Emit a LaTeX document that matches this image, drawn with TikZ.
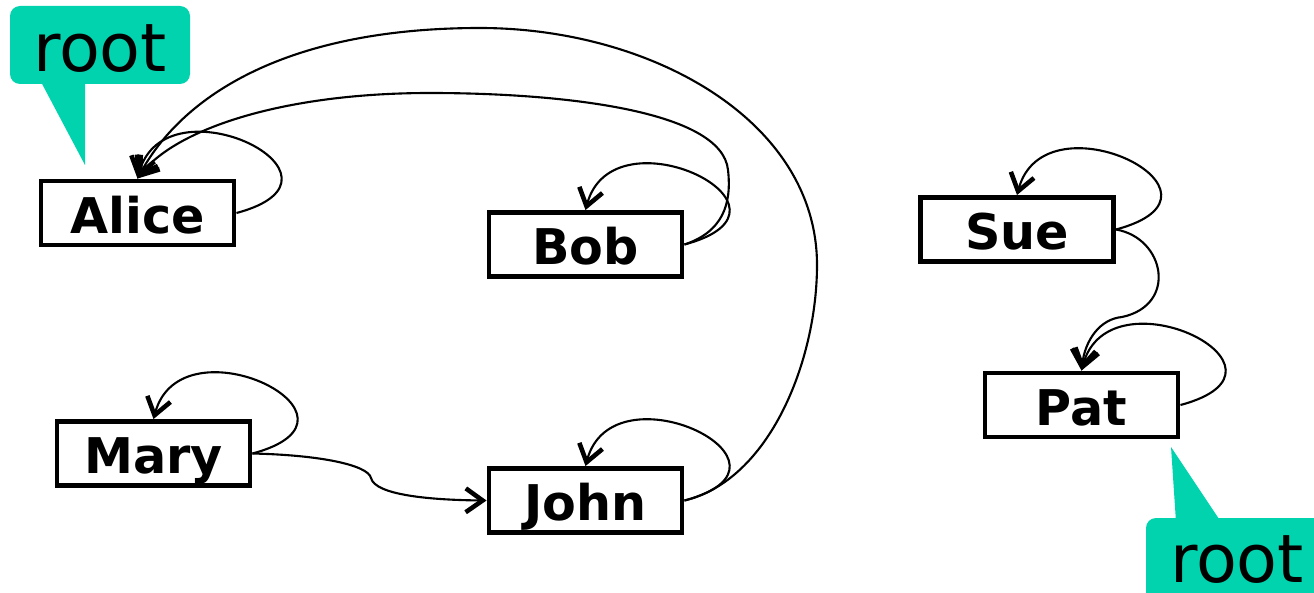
\documentclass[tikz,border=0pt]{standalone}
\usepackage{fontspec}
\setmainfont{DejaVu Sans}
\usetikzlibrary{arrows.meta}
\definecolor{rootteal}{RGB}{0,211,173}

\begin{document}
\begin{tikzpicture}[
		person/.style={draw,line width=1.4pt,minimum width=1.93cm,minimum height=0.64cm,inner sep=0pt,text height=0.40cm,text depth=0pt,font=\bfseries\fontsize{14}{14}\selectfont},
		roottext/.style={inner sep=0pt,text height=0.53cm,text depth=0pt,font=\fontsize{19}{19}\selectfont},
		link/.style={line width=0.6pt,-{Straight Barb[length=4.8pt,width=6.8pt,line width=1.3pt]}},
		selfloop/.style={out=15,in=75,out looseness=3.4,in looseness=2.6}
		]
			\useasboundingbox (0,0) rectangle (13.14,-5.92);
			% callouts
			\fill[rootteal,rounded corners=0.1cm] (0.10,-0.06) rectangle (1.90,-0.84);
			\fill[rootteal] (0.40,-0.80) -- (0.85,-0.80) -- (0.85,-1.65) -- cycle;
			\node[roottext,anchor=base] (rootA) at (1.00,-0.72) {root};
			\fill[rootteal,rounded corners=0.1cm] (11.46,-5.18) rectangle (13.40,-6.10);
			\fill[rootteal] (11.76,-5.22) -- (12.21,-5.22) -- (11.71,-4.47) -- cycle;
			\node[roottext,anchor=base] (rootB) at (12.37,-5.82) {root};
			% people
			\node[person] (Alice) at (1.375,-2.13) {Alice};
			\node[person] (Bob) at (5.855,-2.445) {Bob};
			\node[person] (Sue) at (10.17,-2.295) {Sue};
			\node[person] (Pat) at (10.815,-4.05) {Pat};
			\node[person] (Mary) at (1.535,-4.535) {Mary};
			\node[person] (John) at (5.855,-5.005) {John};
			\foreach \n in {Alice,Bob,Sue,Pat,Mary,John} \draw[link] (\n.east) to[selfloop] (\n.north);
			% parent links
			\draw[link] (Bob.east) .. controls (7.22,-2.32) and (7.32,-2.05) .. (7.28,-1.70)
				.. controls (7.22,-1.10) and (5.60,-0.93) .. (4.30,-0.93)
				.. controls (2.80,-0.93) and (1.75,-1.30) .. (Alice.north);
			\draw[link] (John.east) .. controls (7.70,-4.80) and (8.17,-3.60) .. (8.17,-2.65)
				.. controls (8.17,-1.20) and (6.50,-0.28) .. (4.80,-0.28)
				.. controls (2.80,-0.28) and (1.80,-1.00) .. (Alice.north);
			\draw[link] (Sue.east) .. controls (11.65,-2.38) and (11.78,-3.05) .. (11.22,-3.17)
				.. controls (11.00,-3.19) and (10.85,-3.40) .. (Pat.north);
			\draw[link] (Mary.east) .. controls (3.20,-4.55) and (3.68,-4.65) .. (3.71,-4.78)
				.. controls (3.75,-4.95) and (4.30,-5.00) .. (John.west);
		\end{tikzpicture}
\end{document}
